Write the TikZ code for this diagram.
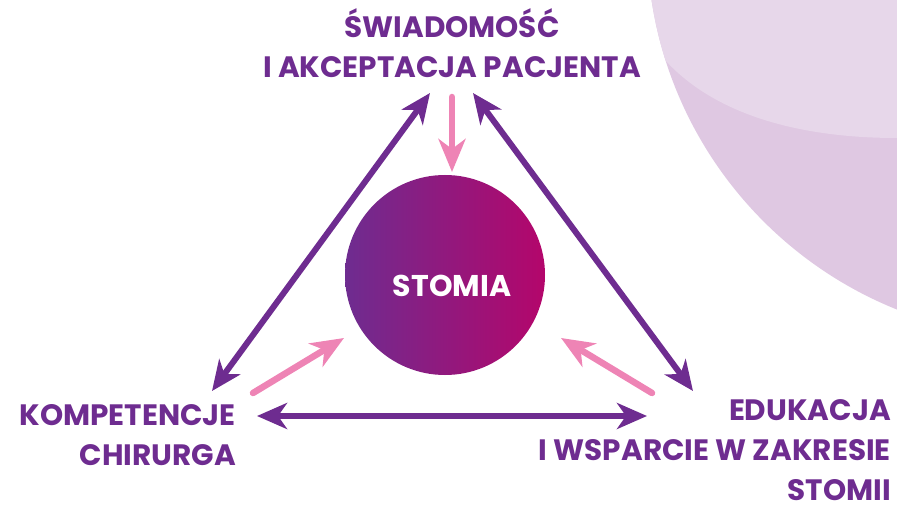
\documentclass[tikz,border=0pt]{standalone}
\usepackage{fontspec}
\setmainfont{Poppins}
\usetikzlibrary{arrows.meta}
\definecolor{dpurple}{HTML}{6E2C90}
\definecolor{pinkarr}{HTML}{EE84B5}
\definecolor{magen}{HTML}{B4066B}
\definecolor{bglow}{HTML}{DFC8E2}
\definecolor{bghigh}{HTML}{E7D7EA}
\tikzset{
  lbl/.style={text=dpurple, font=\bfseries\fontsize{29.5}{40}\selectfont, inner sep=0pt},
  tri/.style={draw=dpurple, line width=6pt, {Stealth[length=30pt,width=26pt,inset=9pt]}-{Stealth[length=30pt,width=26pt,inset=9pt]}},
  pinkline/.style={draw=pinkarr, line width=6.5pt, line cap=round, -{Stealth[length=33pt,width=27pt,inset=10pt]}}
}
\begin{document}
\begin{tikzpicture}[x=1pt,y=-1pt]
\useasboundingbox (0,0) rectangle (897,505);
% background shape
\begin{scope}
\clip (0,0) rectangle (897,505);
\fill[bglow] (1045,-60) circle (398);
\clip (1045,-60) circle (398);
\fill[bghigh] (600,-10) -- (665,60) .. controls (715,115) and (800,138) .. (897,138) -- (900,-10) -- cycle;
\end{scope}
% central circle
\node[circle, minimum size=200pt, inner sep=0pt, left color=dpurple, right color=magen, shading angle=90] (stomia) at (445,275) {};
\node[text=white, font=\bfseries\fontsize{30}{34}\selectfont, inner sep=0pt, anchor=base] (stomiatxt) at (452,296) {STOMIA};
% labels
\node[lbl, align=center, anchor=base] (top) at (452,78) {ŚWIADOMOŚĆ\\I AKCEPTACJA PACJENTA};
\node[lbl, align=right, anchor=base east] (left) at (236,465) {KOMPETENCJE\\CHIRURGA};
\node[lbl, align=right, anchor=base east, text depth=0pt] (right) at (891,500) {EDUKACJA\\I WSPARCIE W ZAKRESIE\\STOMII};
% arrow end points
\coordinate (tl) at (430,93);
\coordinate (tr) at (473,93);
\coordinate (bl) at (212,391);
\coordinate (br) at (693,391);
\coordinate (hl) at (257,416);
\coordinate (hr) at (647,416);
\draw[tri] (bl) -- (tl);
\draw[tri] (tr) -- (br);
\draw[tri] (hl) -- (hr);
% pink arrows
\coordinate (p1s) at (452,97);
\coordinate (p1e) at (452,172);
\coordinate (p2s) at (253,393);
\coordinate (p2e) at (344,338);
\coordinate (p3s) at (652,393);
\coordinate (p3e) at (561,338);
\draw[pinkline] (p1s) -- (p1e);
\draw[pinkline] (p2s) -- (p2e);
\draw[pinkline] (p3s) -- (p3e);
\end{tikzpicture}
\end{document}
